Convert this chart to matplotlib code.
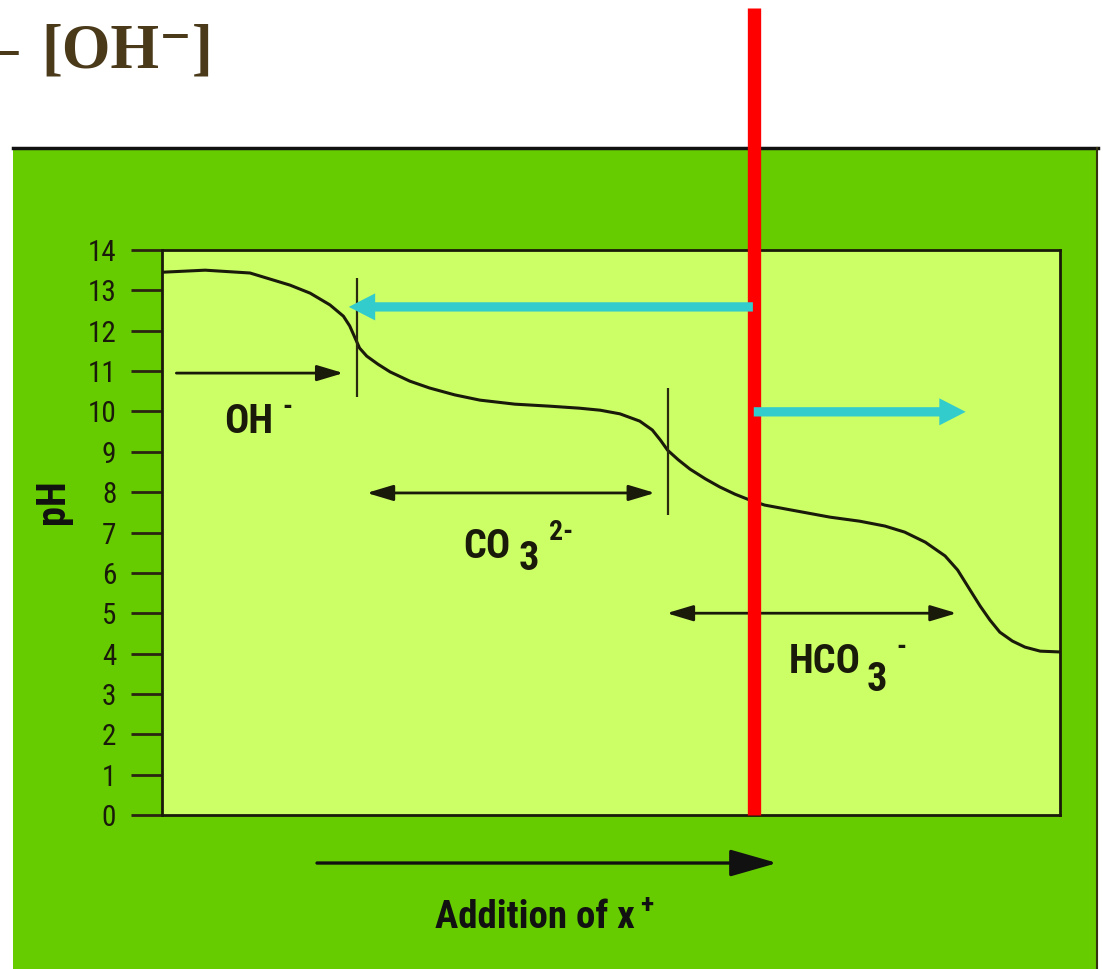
import matplotlib
matplotlib.use("Agg")
import matplotlib.pyplot as plt
from matplotlib.patches import Rectangle
from matplotlib.lines import Line2D

# ---------------- data ----------------
ph_ticks = list(range(0, 15))

curve_x = [0.1, 4.8, 9.8, 14.25, 16.5, 18.7, 20.2, 20.9, 21.5, 22.0, 22.8, 24.05,
           25.4, 27.6, 29.8, 32.6, 35.4, 39.3, 43.2, 46.5, 48.8, 51.0, 53.2, 54.6,
           55.5, 56.3, 57.5, 58.8, 60.5, 62.1, 63.8, 65.5, 67.1, 70.0, 74.4, 77.7,
           80.5, 82.7, 85.0, 87.2, 88.6, 90.0, 91.1, 92.2, 93.3, 94.7, 96.1, 97.8, 100.0]
curve_ph = [13.45, 13.50, 13.43, 13.13, 12.93, 12.64, 12.36, 12.12, 11.82, 11.57, 11.37, 11.17,
            10.98, 10.75, 10.58, 10.41, 10.28, 10.18, 10.13, 10.08, 10.03, 9.94, 9.76, 9.54,
            9.29, 9.04, 8.80, 8.57, 8.33, 8.13, 7.95, 7.80, 7.68, 7.56, 7.38, 7.28,
            7.16, 7.01, 6.76, 6.42, 6.07, 5.57, 5.18, 4.83, 4.53, 4.31, 4.16, 4.06, 4.04]

endpoint_x = [21.7, 56.3]
endpoint_ph_low = [10.36, 7.43]
endpoint_ph_high = [13.3, 10.58]

species_main = ["OH", "CO", "HCO"]
species_sub = ["", "3", "3"]
species_sup = ["-", "2-", "-"]
species_label_x = [9.6, 36.2, 73.8]
species_label_ph = [9.46, 6.37, 3.52]
species_start = [1.6, 22.8, 56.2]
species_end = [20.2, 54.9, 88.5]
species_ph = [10.95, 7.98, 5.0]

red_x = 65.9
red_top_ph = 20.0
cyan_left = (65.8, 20.8, 12.59)    # tail x, tip x, pH
cyan_right = (65.9, 89.5, 9.99)

title_sign = "–"
title_text = "[OH⁻]"
xlabel_text = "Addition of x"
xlabel_sup = "+"
ylabel_text = "pH"

# ---------------- styling ----------------
W, H = 1103, 969
narrow = ['Roboto Condensed', 'Liberation Sans Narrow', 'Liberation Sans', 'DejaVu Sans']
serif = ['Liberation Serif', 'DejaVu Serif']
dark = '#1a1a0a'
title_col = '#4a3a1a'
label_size = 29
sup_size = 20


def fx(px):
    return px / W


def fy(py):
    return 1 - py / H


fig = plt.figure(figsize=(W / 100, H / 100), dpi=100)
fig.patch.set_facecolor('white')

panel = Rectangle((fx(13), 0), fx(1097) - fx(13), fy(148), transform=fig.transFigure,
                  facecolor='#66CC00', edgecolor='none', zorder=-10)
fig.add_artist(panel)
fig.add_artist(Line2D([fx(13), fx(1098)], [fy(148), fy(148)], color='#111111', lw=2.5, zorder=-9))
fig.add_artist(Line2D([fx(1097), fx(1097)], [0, fy(148)], color='#333311', lw=1.5, zorder=-9))

fig.text(fx(18), fy(68), title_sign, family=serif, weight='bold', fontsize=45,
         color=title_col, ha='right', va='baseline')
fig.text(fx(41), fy(68), title_text, family=serif, weight='bold', fontsize=45,
         color=title_col, ha='left', va='baseline')

ax = fig.add_axes([fx(162), fy(815), fx(1060) - fx(162), fy(250) - fy(815)])
ax.set_facecolor('#CCFF66')
ax.set_xlim(0, 100)
ax.set_ylim(0, 14)
ax.set_xticks([])
ax.set_yticks(ph_ticks)
ax.tick_params(axis='y', direction='out', length=22, width=2, color='#2a2410',
               pad=11, labelsize=21, labelcolor=dark)
for lab in ax.get_yticklabels():
    lab.set_family(narrow)
for sp in ax.spines.values():
    sp.set_color(dark)
    sp.set_linewidth(2)

# curve
ax.plot(curve_x, curve_ph, color=dark, lw=2.2, zorder=3)
ax.vlines(endpoint_x, endpoint_ph_low, endpoint_ph_high, color='#2a2a10', lw=1.6, zorder=3)

# species range arrows
styles = ['-|>', '<|-|>', '<|-|>']
for st, x0, x1, p in zip(styles, species_start, species_end, species_ph):
    ax.annotate('', xy=(x1, p), xytext=(x0, p),
                arrowprops=dict(arrowstyle=f'{st},head_length=16,head_width=4.8',
                                mutation_scale=1, lw=2, color=dark, shrinkA=0, shrinkB=0),
                zorder=3)

# species labels (main text, subscript, superscript chained)
sub_gap = [0, 6, 4]
sub_drop = [0, -3, -7]
for main, sub, sup, lx, lp, gap, drop in zip(species_main, species_sub, species_sup,
                                              species_label_x, species_label_ph,
                                              sub_gap, sub_drop):
    t = ax.text(lx, lp, main, ha='center', va='baseline', family=narrow, weight='bold',
                fontsize=label_size, color=dark, zorder=4)
    anchor = t
    if sub:
        anchor = ax.annotate(sub, xy=(1, 0), xycoords=t, xytext=(gap, drop),
                             textcoords='offset points', ha='left', va='baseline',
                             family=narrow, weight='bold', fontsize=label_size, color=dark,
                             zorder=4)
    ax.annotate(sup, xy=(1, 1), xycoords=(anchor, t), xytext=(7, -3),
                textcoords='offset points', ha='left', va='center',
                family=narrow, weight='bold', fontsize=sup_size, color=dark, zorder=4)

# red line
ax.plot([red_x, red_x], [0, red_top_ph], color='#FF0000', lw=9.6, clip_on=False,
        zorder=5, solid_capstyle='butt')

# cyan arrows
for tail, tip, p in (cyan_left, cyan_right):
    ax.annotate('', xy=(tip, p), xytext=(tail, p),
                arrowprops=dict(arrowstyle='simple,head_length=19,head_width=19.5,tail_width=6.7',
                                mutation_scale=1, color='#33CCCC', lw=0, shrinkA=0, shrinkB=0),
                zorder=6)

# bottom arrow and labels
ax.annotate('', xy=(0.685, -0.085), xytext=(0.1726, -0.085), xycoords='axes fraction',
            textcoords='axes fraction', annotation_clip=False,
            arrowprops=dict(arrowstyle='-|>,head_length=29,head_width=8.3', mutation_scale=1,
                            lw=2.4, color='#111111', shrinkA=0, shrinkB=0))
xl = ax.text(0.415, -0.2, xlabel_text, transform=ax.transAxes, ha='center', va='baseline',
             family=narrow, weight='bold', fontsize=28, color='#111111')
ax.annotate(xlabel_sup, xy=(1, 1), xycoords=xl, xytext=(4, -5), textcoords='offset points',
            ha='left', va='center', family=narrow, weight='bold', fontsize=20, color='#111111')

fig.text(fx(53), fy(502), ylabel_text, rotation=90, ha='center', va='center',
         family=narrow, weight='bold', fontsize=29, color='#111111')

fig.savefig('out.png', dpi=100)
